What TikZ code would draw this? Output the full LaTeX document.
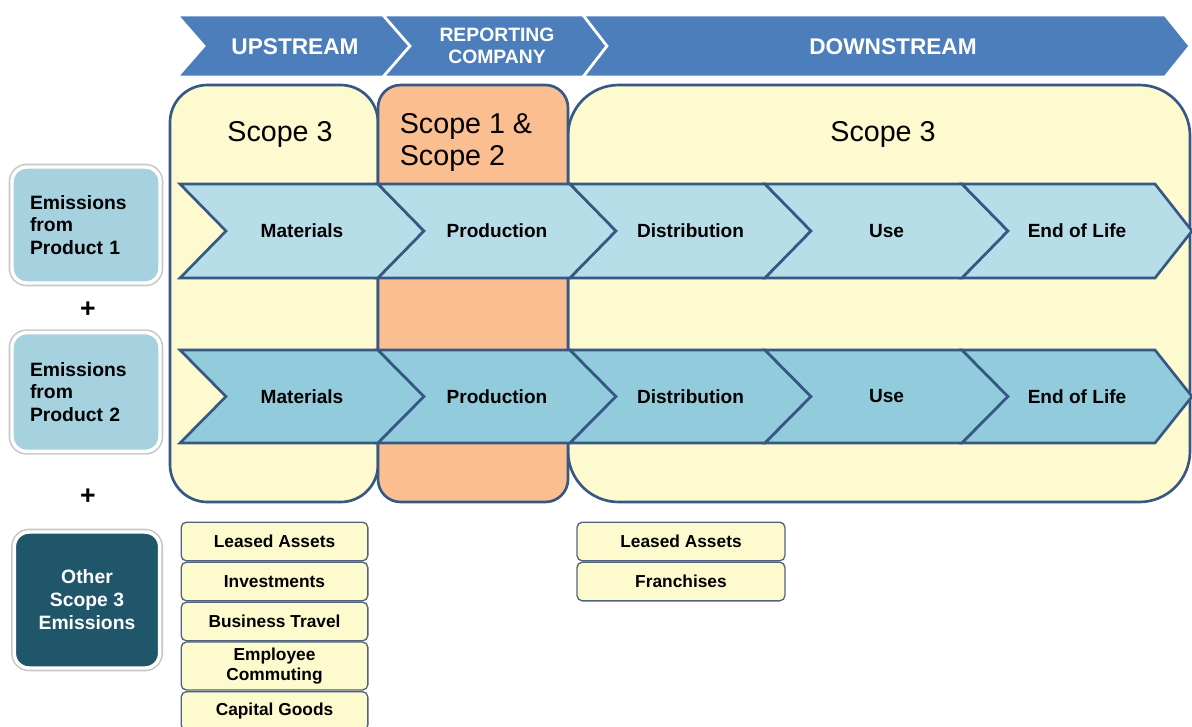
\documentclass[tikz,border=0pt]{standalone}
\usepackage{fontspec}
\setmainfont{Liberation Sans}
\definecolor{hdrblue}{RGB}{76,126,188}
\definecolor{bord}{RGB}{55,88,132}
\definecolor{yell}{RGB}{252,250,206}
\definecolor{orng}{RGB}{250,190,145}
\definecolor{rowa}{RGB}{183,221,232}
\definecolor{rowb}{RGB}{146,203,220}
\definecolor{lbox}{RGB}{166,210,224}
\definecolor{dbox}{RGB}{31,86,106}
\definecolor{sbox}{RGB}{253,251,206}
\begin{document}
\begin{tikzpicture}[x=0.75pt,y=-0.75pt,
  hdr/.style={fill=hdrblue, draw=white, line width=2pt, line join=miter},
  hdrtext/.style={text=white, font=\bfseries\fontsize{17}{19}\selectfont, align=center, inner sep=0pt},
  hdrsmall/.style={text=white, font=\bfseries\fontsize{14.5}{16.5}\selectfont, align=center, inner sep=0pt},
  scopebox/.style={draw=bord, line width=2pt},
  scopetext/.style={font=\fontsize{21.5}{24}\selectfont, inner sep=0pt},
  chev/.style={draw=bord, line width=2pt, line join=miter},
  chevtext/.style={font=\bfseries\fontsize{14.3}{17}\selectfont, inner sep=0pt},
  sidebox/.style={rounded corners=11pt, minimum width=111pt, inner sep=0pt,
     preaction={draw=black!22, line width=5pt}, draw=white, line width=2.6pt},
  prodbox/.style={sidebox, fill=lbox, text width=84pt, align=left,
     font=\bfseries\fontsize{14.5}{17}\selectfont},
  otherbox/.style={sidebox, fill=dbox, text=white, align=center,
     font=\bfseries\fontsize{14.5}{17.3}\selectfont},
  smallbox/.style={rounded corners=4pt, fill=sbox, draw=bord!70!black!80, line width=1pt,
     inner sep=0pt, align=center, font=\bfseries\fontsize{13}{15}\selectfont},
  plus/.style={font=\bfseries\fontsize{20}{20}\selectfont, inner sep=0pt}
]
\clip (0,0) rectangle (1192,726);
\fill[white] (0,0) rectangle (1192,726);

% header
\path[hdr] (177,15) -- (383,15) -- (410,46) -- (383,77) -- (177,77) -- (204,46) -- cycle;
\path[hdr] (383,15) -- (583,15) -- (607,46) -- (583,77) -- (383,77) -- (410,46) -- cycle;
\path[hdr] (583,15) -- (1165,15) -- (1190,46) -- (1165,77) -- (583,77) -- (607,46) -- cycle;
\node[hdrtext] (hup) at (295,47) {UPSTREAM};
\node[hdrsmall] (hrep) at (497,46) {REPORTING\\COMPANY};
\node[hdrtext] (hdown) at (893,47) {DOWNSTREAM};

% scope boxes
\draw[scopebox, fill=yell, rounded corners=38pt] (568,85) rectangle (1190,502);
\draw[scopebox, fill=yell, rounded corners=28pt] (170,85) rectangle (378,502);
\draw[scopebox, fill=orng, rounded corners=17pt] (378,85) rectangle (568,502);
\node[scopetext] (s3a) at (280,134) {Scope 3};
\node[scopetext, align=left] (s12) at (466,142) {Scope 1 \&\\Scope 2};
\node[scopetext] (s3b) at (883,134) {Scope 3};

% chevron rows
\foreach \yt/\yb/\fc/\rn in {184/278/rowa/a, 350/443/rowb/b}{
  \foreach \xa/\xb/\xt/\lbl [count=\i] in {180/378/424/Materials, 378/570/616/Production,
      570/765/811/Distribution, 765/962/1008/Use, 962/1155/1192/End of Life}{
    \draw[chev, fill=\fc] (\xa,\yt) -- (\xb,\yt) -- (\xt,{(\yt+\yb)/2}) -- (\xb,\yb)
        -- (\xa,\yb) -- ({\xa+46},{(\yt+\yb)/2}) -- cycle;
    \node[chevtext] (\rn\i) at ({(\xa+\xt)/2},{(\yt+\yb)/2}) {\lbl};
  }
}

% side boxes
\node[prodbox, minimum height=87pt] (p1) at (86,225) {Emissions\\from\\Product 1};
\node[plus] (plus1) at (88,310) {+};
\node[prodbox, minimum height=89pt] (p2) at (86,392) {Emissions\\from\\Product 2};
\node[plus] (plus2) at (88,497) {+};
\node[otherbox, minimum width=109pt, minimum height=102pt] (oth) at (87,600) {Other\\Scope 3\\Emissions};

% small boxes upstream
\node[smallbox, minimum width=140pt, minimum height=29pt] (u1) at (274.5,541.5) {Leased Assets};
\node[smallbox, minimum width=140pt, minimum height=29pt] (u2) at (274.5,581.5) {Investments};
\node[smallbox, minimum width=140pt, minimum height=29pt] (u3) at (274.5,621.5) {Business Travel};
\node[smallbox, minimum width=140pt, minimum height=36pt] (u4) at (274.5,666) {Employee\\Commuting};
\node[smallbox, minimum width=140pt, minimum height=29pt] (u5) at (274.5,711) {Capital Goods};

% small boxes downstream
\node[smallbox, minimum width=156pt, minimum height=29pt] (d1) at (681,541.5) {Leased Assets};
\node[smallbox, minimum width=156pt, minimum height=29pt] (d2) at (681,581.5) {Franchises};
\end{tikzpicture}
\end{document}
